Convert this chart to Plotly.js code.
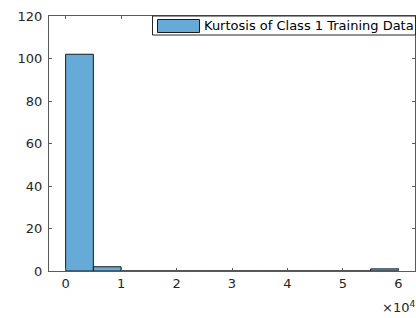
<!DOCTYPE html>
<html><head><meta charset="utf-8">
<script src="https://cdn.plot.ly/plotly-3.0.1.min.js"></script>
<style>html,body{margin:0;padding:0;background:#fff;}#chart{width:416px;height:318px;}</style>
</head><body><div id="chart"></div>
<script>
const binCenters = [2500, 7500, 12500, 17500, 22500, 27500, 32500, 37500, 42500, 47500, 52500, 57500];
const binCounts = [102, 2, 0, 0, 0, 0, 0, 0, 0, 0, 0, 1];
const binWidth = 5000;
const seriesName = 'Kurtosis of Class 1 Training Data';
const xTickVals = [0, 10000, 20000, 30000, 40000, 50000, 60000];
const xTickText = ['0', '1', '2', '3', '4', '5', '6'];
const yTickVals = [0, 20, 40, 60, 80, 100, 120];

const W = 416, H = 318, M = {l: 49, r: 1, t: 16, b: 47};
const pw = W - M.l - M.r, ph = H - M.t - M.b;
const px = v => (v - M.l) / pw;      // pixel x -> paper x
const py = v => 1 - (v - M.t) / ph;  // pixel y -> paper y

const barColor = 'rgb(102,170,215)';
const trace = {
  type: 'bar', x: binCenters, y: binCounts, width: binWidth, name: seriesName,
  marker: {color: barColor, line: {color: '#1a1a1a', width: 1}},
  showlegend: false
};
const axisCommon = {
  showline: true, linecolor: '#5a5a5a', linewidth: 1, mirror: 'ticks',
  ticks: 'inside', ticklen: 3, tickcolor: '#5a5a5a', showgrid: false, zeroline: false,
  tickfont: {family: 'DejaVu Sans', size: 13, color: '#262626'}
};
const layout = {
  width: W, height: H, margin: M,
  paper_bgcolor: '#fff', plot_bgcolor: '#fff',
  bargap: 0, showlegend: false,
  xaxis: Object.assign({}, axisCommon, {range: [-3000, 63000], tickvals: xTickVals, ticktext: xTickText}),
  yaxis: Object.assign({}, axisCommon, {range: [0, 120], tickvals: yTickVals, ticklabelstandoff: 3}),
  shapes: [
    {type: 'rect', xref: 'paper', yref: 'paper', x0: px(152.5), x1: px(415.5), y0: py(35), y1: py(16),
     fillcolor: '#fff', line: {color: '#262626', width: 1}, layer: 'above'},
    {type: 'rect', xref: 'paper', yref: 'paper', x0: px(157.5), x1: px(199.5), y0: py(32.5), y1: py(19.5),
     fillcolor: barColor, line: {color: '#1a1a1a', width: 1}, layer: 'above'}
  ],
  annotations: [
    {xref: 'paper', yref: 'paper', x: px(202), y: py(26), xanchor: 'left', yanchor: 'middle', showarrow: false,
     text: seriesName, font: {family: 'DejaVu Sans', size: 13, color: '#000'}},
    {xref: 'paper', yref: 'paper', x: px(417), y: py(317), xanchor: 'right', yanchor: 'bottom', showarrow: false,
     text: '×10<sup>4</sup>', font: {family: 'DejaVu Sans', size: 13, color: '#262626'}}
  ]
};
Plotly.newPlot('chart', [trace], layout, {displayModeBar: false, staticPlot: true});
</script></body></html>
